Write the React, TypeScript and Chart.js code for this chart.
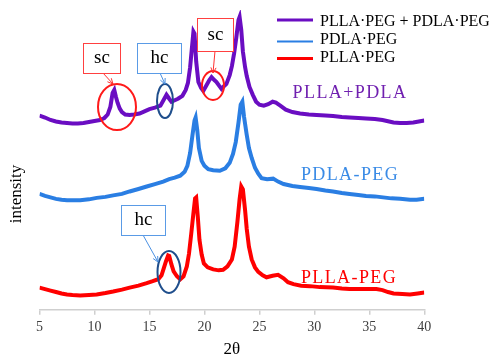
import React, { useEffect, useRef } from "react";
import { Chart, registerables } from "chart.js";

Chart.register(...registerables);

// ---- Data (2θ in degrees, intensity in arbitrary units with offsets) ----
const blendTheta = [5.0, 5.5, 6.0, 6.5, 7.0, 7.5, 8.0, 8.5, 9.0, 9.5, 10.0, 10.5, 10.9, 11.2, 11.45, 11.65, 11.8, 11.95, 12.1, 12.3, 12.5, 12.8, 13.2, 13.6, 14.1, 14.6, 15.0, 15.5, 16.0, 16.3, 16.55, 16.8, 17.0, 17.3, 17.6, 18.0, 18.3, 18.5, 18.7, 18.85, 19.0, 19.1, 19.25, 19.45, 19.7, 19.9, 20.2, 20.45, 20.65, 20.9, 21.1, 21.35, 21.55, 21.8, 22.0, 22.3, 22.5, 22.7, 22.9, 23.1, 23.2, 23.35, 23.5, 23.7, 23.85, 24.1, 24.4, 24.7, 25.0, 25.4, 25.8, 26.2, 26.5, 26.9, 27.4, 28.0, 28.7, 29.5, 30.2, 31.0, 31.7, 32.5, 33.2, 34.0, 34.7, 35.5, 36.2, 36.8, 37.2, 37.8, 38.4, 39.0, 39.5, 40.0];
const blendIntensity = [197, 195, 192.5, 191, 190, 189.5, 189, 189, 189.5, 190.5, 191.5, 192.5, 194.5, 198, 206, 220, 223, 216, 210, 204, 200.5, 198, 197.5, 198, 199, 201.5, 203.5, 205, 207, 213, 218, 214, 211, 212.5, 214, 217, 223, 230, 246, 264, 282, 280, 252, 231, 225, 222, 228, 233, 236, 233, 231, 227, 224, 227, 229, 238, 247, 260, 276, 294, 297, 284, 262, 246, 237, 226, 218, 211, 208, 207, 208.5, 211, 210, 207, 203, 200.5, 199, 198, 197.5, 197, 196.5, 195.5, 195, 194.5, 194, 193.5, 192.5, 191, 190, 189.5, 189.5, 190, 191, 192];

const pdlaTheta = [5.0, 5.5, 6.0, 6.5, 7.0, 7.5, 8.0, 8.7, 9.5, 10.2, 11.0, 11.7, 12.5, 13.2, 14.0, 14.75, 15.5, 16.25, 16.8, 17.3, 17.8, 18.2, 18.45, 18.7, 18.9, 19.1, 19.2, 19.35, 19.5, 19.75, 20.0, 20.35, 20.8, 21.4, 21.9, 22.3, 22.6, 22.85, 23.1, 23.3, 23.45, 23.6, 23.84, 24.05, 24.3, 24.6, 24.9, 25.2, 25.7, 26.25, 26.7, 27.2, 28.0, 28.7, 29.5, 30.2, 31.0, 31.7, 32.5, 33.2, 34.0, 34.7, 35.5, 36.25, 37.0, 37.8, 38.7, 39.3, 40.0];
const pdlaIntensity = [117.5, 115.5, 114, 112.5, 111.5, 111, 111, 111, 112, 113.5, 114.5, 116, 117.5, 120, 122.5, 125, 127.5, 130, 132.5, 134, 136, 140, 146, 159, 176, 192, 195, 182, 164, 151, 146, 142.5, 141.5, 141, 143.5, 149, 158, 170, 190, 208, 211, 196, 178, 164, 154, 144, 138, 133.5, 132.5, 133, 130, 127.5, 125.5, 124.5, 123.5, 122.5, 121, 120, 118.5, 117.5, 116.5, 115.5, 115, 114, 113, 112.5, 111.5, 111.5, 112.5];

const pllaTheta = [5.0, 5.5, 6.0, 6.5, 7.0, 7.5, 8.0, 8.7, 9.5, 10.2, 11.0, 11.7, 12.5, 13.2, 14.0, 14.75, 15.3, 15.8, 16.1, 16.3, 16.5, 16.7, 16.8, 17.0, 17.2, 17.5, 17.8, 18.1, 18.4, 18.6, 18.8, 19.0, 19.15, 19.25, 19.4, 19.55, 19.75, 19.95, 20.3, 20.8, 21.3, 21.7, 22.1, 22.5, 22.75, 23.0, 23.2, 23.35, 23.5, 23.7, 23.85, 24.05, 24.3, 24.6, 24.9, 25.3, 25.65, 26.2, 26.7, 27.2, 27.6, 28.1, 28.8, 29.6, 30.5, 31.7, 32.5, 33.2, 34.0, 35.0, 35.65, 36.2, 36.7, 37.2, 38.0, 38.7, 39.4, 40.0];
const pllaIntensity = [22.5, 21, 19.5, 18, 16.5, 15.5, 15, 14.5, 15, 15.5, 17, 18.5, 20.5, 22.5, 24.5, 27, 29, 31, 35, 42, 49, 55, 54.5, 46, 39, 34, 31, 34, 44, 57, 77, 98, 113, 114, 94, 71, 56, 47, 43, 41, 40, 40.5, 44, 51, 64, 89, 112, 125, 122, 101, 82, 64, 51, 43, 38.5, 35, 33, 34.5, 35.5, 32, 28, 26, 24.5, 24, 23, 22.5, 21.5, 21, 21, 21, 21, 20, 18, 16.5, 16, 15.5, 16.5, 17.5];

const seriesNames = ["PLLA·PEG + PDLA·PEG", "PDLA·PEG", "PLLA·PEG"];
const curveLabels = ["PLLA+PDLA", "PDLA-PEG", "PLLA-PEG"];
const xTickMin = 5;
const xTickMax = 40;
const xTickStep = 5;

const PURPLE = "#6a0dc2";
const BLUE = "#2a7ee3";
const RED = "#ff0000";
const SERIF = '"Liberation Serif", "DejaVu Serif"';

function toPoints(xs: number[], ys: number[]) {
  return xs.map((x, i) => ({ x, y: ys[i] }));
}

const overlayPlugin = {
  id: "overlay",
  afterDatasetsDraw(chart: any) {
    const ctx: CanvasRenderingContext2D = chart.ctx;
    ctx.save();
    // page coordinates -> canvas coordinates (body margin 8px)
    ctx.translate(-8, -8);

    const box = (x0: number, y0: number, x1: number, y1: number, color: string, text: string) => {
      ctx.fillStyle = "#ffffff";
      ctx.fillRect(x0, y0, x1 - x0, y1 - y0);
      ctx.strokeStyle = color;
      ctx.lineWidth = 1;
      ctx.strokeRect(x0 + 0.5, y0 + 0.5, x1 - x0 - 1, y1 - y0 - 1);
      ctx.fillStyle = "#000";
      ctx.font = `19px ${SERIF}`;
      ctx.textAlign = "center";
      ctx.textBaseline = "middle";
      ctx.fillText(text, (x0 + x1) / 2, (y0 + y1) / 2);
    };
    const arrow = (x0: number, y0: number, x1: number, y1: number, color: string) => {
      ctx.strokeStyle = color;
      ctx.fillStyle = color;
      ctx.lineWidth = 1;
      ctx.beginPath();
      ctx.moveTo(x0, y0);
      ctx.lineTo(x1, y1);
      ctx.stroke();
      const a = Math.atan2(y1 - y0, x1 - x0);
      const L = 6;
      ctx.beginPath();
      ctx.moveTo(x1 - L * Math.cos(a - 0.45), y1 - L * Math.sin(a - 0.45));
      ctx.lineTo(x1, y1);
      ctx.lineTo(x1 - L * Math.cos(a + 0.45), y1 - L * Math.sin(a + 0.45));
      ctx.stroke();
    };
    const ellipse = (cx: number, cy: number, rx: number, ry: number, color: string) => {
      ctx.strokeStyle = color;
      ctx.lineWidth = 2;
      ctx.beginPath();
      ctx.ellipse(cx, cy, rx, ry, 0, 0, Math.PI * 2);
      ctx.stroke();
    };

    ellipse(117, 107, 19, 23, "#ff1a1a");
    ellipse(165, 101, 8, 17, "#1f4e8c");
    ellipse(213, 85.5, 11, 14.5, "#ff1a1a");
    ellipse(169, 272, 11.5, 21, "#1f4e8c");

    arrow(103, 73, 113, 84, "#ff3030");
    arrow(160, 73, 165, 84, "#4a90e2");
    arrow(215, 51, 213, 73, "#ff3030");
    arrow(143, 235, 158, 262, "#4a90e2");

    box(83, 43, 121, 74, "#ff4040", "sc");
    box(137, 43, 182, 74, "#5a9be6", "hc");
    box(197, 18, 234, 52, "#ff4040", "sc");
    box(121, 205, 166, 236, "#5a9be6", "hc");

    (ctx as any).letterSpacing = "1.4px";
    ctx.font = `18px ${SERIF}`;
    ctx.textAlign = "center";
    ctx.textBaseline = "middle";
    ctx.fillStyle = "#7020b0";
    ctx.fillText(curveLabels[0], 350, 93);
    ctx.fillStyle = "#3a8be6";
    ctx.fillText(curveLabels[1], 350, 175);
    ctx.fillStyle = "#ff0000";
    ctx.fillText(curveLabels[2], 349, 278);
    (ctx as any).letterSpacing = "0px";

    const legendColors = [PURPLE, BLUE, RED];
    const legendWidths = [3, 2, 3];
    const lineY = [20, 41.5, 58.5];
    const textY = [21.5, 39.5, 58];
    ctx.font = `16px ${SERIF}`;
    ctx.textAlign = "left";
    ctx.textBaseline = "middle";
    for (let i = 0; i < 3; i++) {
      ctx.strokeStyle = legendColors[i];
      ctx.lineWidth = legendWidths[i];
      ctx.beginPath();
      ctx.moveTo(277, lineY[i]);
      ctx.lineTo(313, lineY[i]);
      ctx.stroke();
      ctx.fillStyle = "#000";
      ctx.fillText(seriesNames[i], 320, textY[i]);
    }

    ctx.save();
    ctx.translate(17, 194);
    ctx.rotate(-Math.PI / 2);
    ctx.font = `17px ${SERIF}`;
    ctx.textAlign = "center";
    ctx.textBaseline = "middle";
    ctx.fillStyle = "#000";
    ctx.fillText("intensity", 0, 0);
    ctx.restore();

    ctx.restore();
  },
};

export default function App() {
  const canvasRef = useRef<HTMLCanvasElement | null>(null);

  useEffect(() => {
    let chart: Chart | null = null;
    let cancelled = false;
    const build = () => {
      if (cancelled || !canvasRef.current) return;
      chart = new Chart(canvasRef.current, {
        type: "line",
        data: {
          datasets: [
            {
              label: seriesNames[0],
              data: toPoints(blendTheta, blendIntensity),
              borderColor: PURPLE,
              borderWidth: 4,
              pointRadius: 0,
              tension: 0,
            },
            {
              label: seriesNames[1],
              data: toPoints(pdlaTheta, pdlaIntensity),
              borderColor: BLUE,
              borderWidth: 4,
              pointRadius: 0,
              tension: 0,
            },
            {
              label: seriesNames[2],
              data: toPoints(pllaTheta, pllaIntensity),
              borderColor: RED,
              borderWidth: 4,
              pointRadius: 0,
              tension: 0,
            },
          ],
        },
        options: {
          animation: false,
          responsive: false,
          devicePixelRatio: 1,
          layout: { padding: { top: 2, left: 31.5, right: 64.7, bottom: 0 } },
          plugins: {
            legend: { display: false },
            tooltip: { enabled: false },
          },
          scales: {
            x: {
              type: "linear",
              min: xTickMin,
              max: xTickMax,
              ticks: {
                stepSize: xTickStep,
                color: "#404040",
                font: { family: SERIF, size: 14 },
                padding: 4,
                maxRotation: 0,
              },
              grid: {
                display: true,
                drawOnChartArea: false,
                drawTicks: true,
                tickLength: 5,
                color: "#cfcfcf",
                lineWidth: 1.5,
              },
              border: { display: true, color: "#cfcfcf", width: 1.5 },
              title: {
                display: true,
                text: "2θ",
                color: "#000",
                font: { family: SERIF, size: 17 },
                padding: { top: 0, bottom: 0 },
              },
            },
            y: {
              display: false,
              min: 0,
              max: 304,
            },
          },
        },
        plugins: [overlayPlugin],
      });
    };
    const fontsApi = (document as any).fonts;
    if (fontsApi && fontsApi.load) {
      Promise.all([
        fontsApi.load('16px "Liberation Serif"'),
        fontsApi.load('16px "DejaVu Serif"'),
      ])
        .catch(() => undefined)
        .then(() => build());
    } else {
      build();
    }
    return () => {
      cancelled = true;
      if (chart) chart.destroy();
    };
  }, []);

  return (
    <div style={{ width: 481, height: 352 }}>
      <canvas ref={canvasRef} width={481} height={352} style={{ display: "block" }} />
    </div>
  );
}
